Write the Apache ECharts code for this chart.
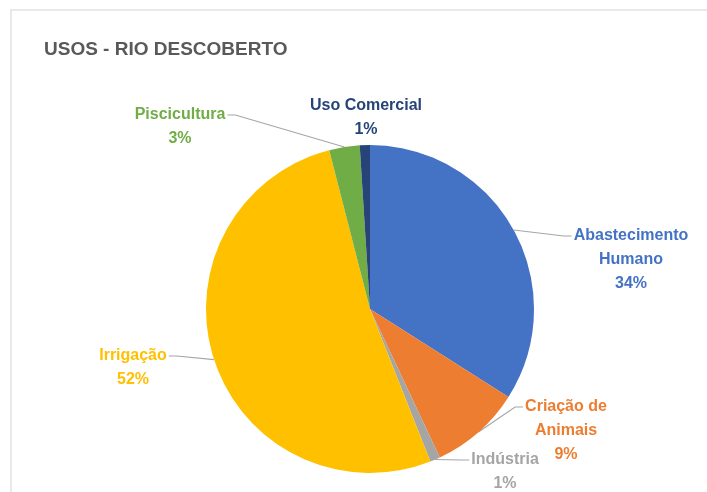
<!DOCTYPE html>
<html>
<head>
<meta charset="utf-8">
<title>Usos - Rio Descoberto</title>
<script src="https://cdn.jsdelivr.net/npm/echarts@6/dist/echarts.min.js"></script>
<style>
  html, body { margin: 0; padding: 0; background: #ffffff; }
  #chart { width: 707px; height: 492px; }
</style>
</head>
<body>
<div id="chart"></div>
<script>
// Water uses registered on Rio Descoberto (share of total, %)
const categories = ['Abastecimento Humano', 'Criação de Animais', 'Indústria', 'Irrigação', 'Piscicultura', 'Uso Comercial'];
const shares = [34, 9, 1, 52, 3, 1];
const sliceColors = ['#4472C4', '#ED7D31', '#A5A5A5', '#FFC000', '#70AD47', '#264478'];

// Where each label block sits (centre of the text, in px)
const labelSpots = [
  [631, 260],
  [566, 431],
  [505, 472],
  [133, 368],
  [180, 127],
  [366, 118]
];

const PIE_CX = 370;
const LINE_H = 24;

const wrapName = name => name
  .replace('Abastecimento ', 'Abastecimento\n')
  .replace('de Animais', 'de\nAnimais');

const FONT = '"Liberation Sans", Arial, sans-serif';

const chart = echarts.init(document.getElementById('chart'), null, { renderer: 'canvas' });

// Leader line: from the slice's outer edge to the side of the label's first line
function placeLabel(p) {
  const [cx, cy] = labelSpots[p.dataIndex];
  const w = p.labelRect.width;
  const h = p.labelRect.height;
  const out = { x: cx, y: cy, align: 'center', verticalAlign: 'middle' };
  const pts = p.labelLinePoints;
  if (pts && pts.length) {
    const anchor = pts[0];
    const onRight = cx > PIE_CX;
    const ax = onRight ? cx - w / 2 - 2 : cx + w / 2 + 2;
    const ay = cy - h / 2 + LINE_H / 2;
    const bend = [onRight ? ax - 8 : ax + 8, ay];
    out.labelLinePoints = [anchor, bend, [ax, ay]];
  }
  return out;
}

chart.setOption({
  backgroundColor: '#ffffff',
  animation: false,
  graphic: [{
    type: 'rect',
    shape: { x: 11, y: 10, width: 720, height: 520 },
    style: { fill: 'none', stroke: '#e2e2e2', lineWidth: 1.5 },
    silent: true
  }],
  title: {
    text: 'USOS - RIO DESCOBERTO',
    left: 44,
    top: 40,
    padding: 0,
    textStyle: {
      fontFamily: FONT,
      fontWeight: 'bold',
      fontSize: 19,
      color: '#595959'
    }
  },
  series: [{
    type: 'pie',
    center: [PIE_CX, 309],
    radius: 164,
    startAngle: 90,
    clockwise: true,
    avoidLabelOverlap: false,
    itemStyle: { borderWidth: 0 },
    label: {
      show: true,
      position: 'outside',
      formatter: p => wrapName(p.name) + '\n' + Math.round(p.percent) + '%',
      fontFamily: FONT,
      fontWeight: 'bold',
      fontSize: 16,
      lineHeight: LINE_H,
      align: 'center'
    },
    labelLine: {
      show: true,
      length: 10,
      length2: 10,
      lineStyle: { color: '#a6a6a6', width: 1.2 }
    },
    labelLayout: placeLabel,
    data: categories.map((name, i) => ({
      name,
      value: shares[i],
      itemStyle: { color: sliceColors[i] },
      label: { color: sliceColors[i] },
      labelLine: { show: i !== 5 }
    }))
  }]
});
</script>
</body>
</html>
